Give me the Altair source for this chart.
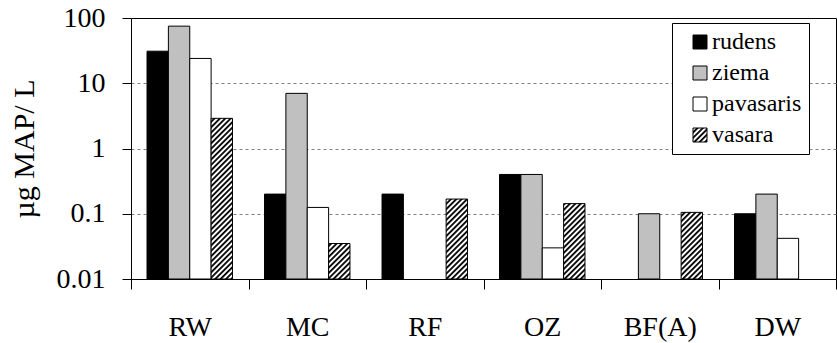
import altair as alt
import pandas as pd

# ---------------- data ----------------
sites = ["RW", "MC", "RF", "OZ", "BF(A)", "DW"]
seasons = ["rudens", "ziema", "pavasaris", "vasara"]
rudens = [31, 0.2, 0.2, 0.4, None, 0.1]
ziema = [75, 7.0, None, 0.4, 0.1, 0.2]
pavasaris = [24, 0.125, None, 0.03, None, 0.042]
vasara = [2.9, 0.035, 0.168, 0.143, 0.105, None]
y_ticks = [0.01, 0.1, 1, 10, 100]

rows = []
for season, vals in zip(seasons, [rudens, ziema, pavasaris, vasara]):
    for site, v in zip(sites, vals):
        if v is not None:
            rows.append({"site": site, "season": season, "value": v})
df = pd.DataFrame(rows)

fills = ["#000000", "#c0c0c0", "#ffffff", "url(#hatch)"]

# --- hatch pattern definition injected into the page template ---
try:
    import altair.utils.html as _h
    _defs = (
        '<svg width="0" height="0" style="position:absolute;left:0;top:0" aria-hidden="true">'
        '<defs><pattern id="hatch" patternUnits="userSpaceOnUse" width="3.8" height="3.8" '
        'patternTransform="rotate(45)">'
        '<rect x="0" y="0" width="3.8" height="3.8" fill="white"/>'
        '<rect x="0" y="0" width="1.8" height="3.8" fill="black"/>'
        '</pattern></defs></svg>'
    )
    _tpl = getattr(_h, "TEMPLATES", {}).get("standard", None) or _h.HTML_TEMPLATE
    _orig_render = _tpl.render

    def _render(*args, **kwargs):
        html = _orig_render(*args, **kwargs)
        if "<body>" in html:
            return html.replace("<body>", "<body>\n" + _defs, 1)
        return _defs + html

    _tpl.render = _render
except Exception:
    pass

FONT = "Liberation Serif"

chart = (
    alt.Chart(df)
    .mark_bar(stroke="black", strokeWidth=1)
    .encode(
        x=alt.X(
            "site:N",
            sort=sites,
            scale=alt.Scale(domain=sites, paddingInner=0, paddingOuter=0),
            axis=alt.Axis(
                title=None,
                labelAngle=0,
                tickBand="extent",
                tickSize=10,
                tickColor="black",
                domainColor="black",
                labelFont=FONT,
                labelFontSize=28,
                labelColor="black",
                labelPadding=24,
            ),
        ),
        xOffset=alt.XOffset(
            "season:N",
            sort=seasons,
            scale=alt.Scale(domain=seasons, paddingInner=0, paddingOuter=0.75),
        ),
        y=alt.Y(
            "value:Q",
            scale=alt.Scale(type="log", domain=[0.01, 100], nice=False),
            axis=alt.Axis(
                title="µg MAP/ L",
                values=y_ticks,
                format="~g",
                grid=True,
                gridDash=[3, 3],
                gridColor="#808080",
                gridOpacity=alt.condition(
                    "datum.value === 100 || datum.value === 0.01", alt.value(0), alt.value(1)
                ),
                tickSize=9,
                tickColor="black",
                domainColor="black",
                labelFont=FONT,
                labelFontSize=28,
                labelColor="black",
                labelPadding=17,
                titleFont=FONT,
                titleFontSize=30,
                titleFontWeight="normal",
                titleColor="black",
                titleAngle=270,
                titleAlign="center",
                titleBaseline="bottom",
                titleX=-92,
                titleY=130.5,
            ),
        ),
        y2=alt.datum(0.01),
        fill=alt.Fill(
            "season:N",
            sort=seasons,
            scale=alt.Scale(domain=seasons, range=fills),
            legend=alt.Legend(
                title=None,
                orient="none",
                legendX=541,
                legendY=5,
                direction="vertical",
                fillColor="white",
                strokeColor="black",
                padding=7,
                rowPadding=7,
                symbolType="square",
                symbolSize=196,
                symbolStrokeColor="black",
                symbolStrokeWidth=1,
                symbolOffset=9,
                labelFont=FONT,
                labelFontSize=24,
                labelColor="black",
                labelOffset=0,
                labelLimit=0,
            ),
        ),
    )
    .properties(
        width=705,
        height=261,
        autosize=alt.AutoSizeParams(type="none"),
        padding={"left": 131, "top": 18, "right": 1, "bottom": 64},
        background="white",
    )
    .configure(font=FONT)
    .configure_view(stroke="black", strokeWidth=1)
)

chart.save("out.html", embed_options={"renderer": "svg", "actions": False})
